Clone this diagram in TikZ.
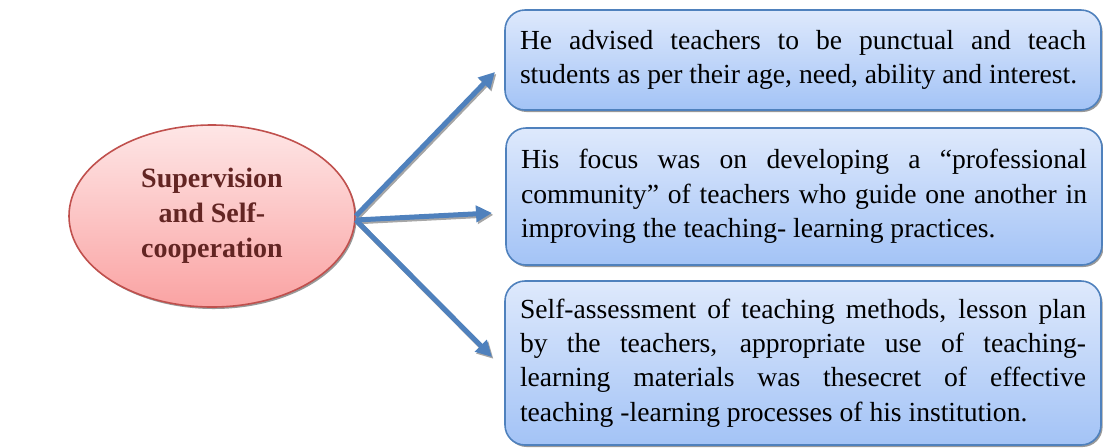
\documentclass[tikz,border=0pt]{standalone}
\usepackage{fontspec}
\setmainfont{Liberation Serif}
\usepackage{xcolor}
\usepackage{tikz}
\usetikzlibrary{arrows.meta,shapes.geometric,shadows,positioning}
\definecolor{arrowblue}{RGB}{79,129,189}
\definecolor{boxtop}{RGB}{222,233,252}
\definecolor{boxbottom}{RGB}{163,195,246}
\definecolor{ovaltop}{RGB}{254,230,230}
\definecolor{ovalbottom}{RGB}{250,163,163}
\definecolor{ovalline}{RGB}{192,80,77}
\definecolor{ovaltext}{RGB}{99,37,35}
\tikzstyle{oval}=[ellipse,draw=ovalline,thick,top color=ovaltop,bottom color=ovalbottom,
  minimum width=143pt,minimum height=91pt,inner sep=0pt,align=center,
  font=\fontsize{14}{17.5}\selectfont\bfseries,text=ovaltext,
  drop shadow={shadow xshift=0.8pt,shadow yshift=-1pt,fill=gray!80,opacity=1}]
\tikzstyle{note}=[rectangle,rounded corners=10pt,draw=arrowblue,thick,top color=boxtop,bottom color=boxbottom,
  text width=283pt,inner xsep=7.5pt,inner ysep=0pt,align=justify,
  font=\fontsize{13.8}{17.2}\selectfont,
  drop shadow={shadow xshift=0.8pt,shadow yshift=-1pt,fill=gray!80,opacity=1}]
\tikzstyle{arrow}=[draw=arrowblue,line width=2.5pt,-{Triangle[length=8pt,width=8pt]},
  preaction={draw=gray!70,line width=2.5pt,transform canvas={shift={(0.7pt,-0.9pt)}}}]

\begin{document}
\begin{tikzpicture}[x=0.5pt,y=-0.5pt]
\useasboundingbox (0,0) rectangle (1103,447);
\node[oval](one) at (212,216) {\raisebox{0pt}{}Supervision\\and Self-\\cooperation};
\node[note,minimum height=50pt](two) at (803,60) {He advised teachers to be punctual and teach\linebreak students as per their age, need, ability and interest.};
\node[note,minimum height=68.5pt](three) at (804,196.5) {His focus was on developing a ``professional\linebreak community'' of teachers who guide one another in\linebreak improving the teaching- learning practices.};
\node[note,minimum height=82pt](four) at (803,363) {Self-assessment of teaching methods, lesson plan\linebreak by the teachers, appropriate use of teaching-\linebreak learning materials was thesecret of effective\linebreak teaching -learning processes of his institution.};
\coordinate (tipone) at (495,72);
\coordinate (tiptwo) at (492,213);
\coordinate (tipthree) at (492,357);
\draw [arrow] (one.east)--(tipone);
\draw [arrow] ([yshift=-2pt]one.east)--(tiptwo);
\draw [arrow] ([yshift=-2pt]one.east)--(tipthree);
\end{tikzpicture}
\end{document}
